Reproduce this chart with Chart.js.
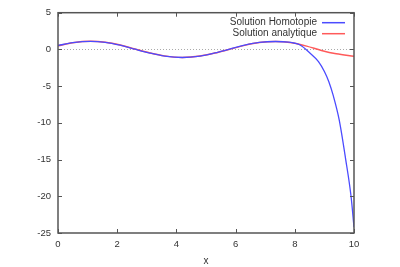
<!DOCTYPE html>
<html>
<head>
<meta charset="utf-8">
<script src="https://cdn.jsdelivr.net/npm/chart.js@4/dist/chart.umd.min.js"></script>
<style>
  html, body { margin: 0; padding: 0; background: #fff; }
  #wrap { width: 400px; height: 267px; }
</style>
</head>
<body>
<div id="wrap"><canvas id="solChart"></canvas></div>
<script>
// values
const xAnalytique = [0, 0.5, 1.1, 1.6, 2.1, 2.6, 3.1, 3.6, 4.2, 4.8, 5.3, 5.8, 6.3, 6.8, 7.35, 7.9, 8.4, 8.9, 9.4, 10];
const yAnalytique = [0.5, 0.91, 1.1, 0.97, 0.59, 0.05, -0.47, -0.88, -1.1, -0.91, -0.5, 0.02, 0.55, 0.94, 1.08, 0.9, 0.45, -0.15, -0.6, -0.92];

const xHomotopie = [0, 0.5, 1.1, 1.6, 2.1, 2.6, 3.1, 3.6, 4.2, 4.8, 5.3, 5.8, 6.3, 6.8, 7.35, 7.8, 8.0, 8.18, 8.5, 8.8, 9.0, 9.15, 9.3, 9.5, 9.72, 9.9, 10];
const yHomotopie = [0.53, 0.92, 1.1, 0.97, 0.58, 0.03, -0.49, -0.9, -1.1, -0.9, -0.48, 0.04, 0.57, 0.95, 1.08, 0.98, 0.84, 0.6, -0.45, -1.65, -3.0, -4.4, -6.3, -9.6, -15.0, -20.0, -24.2];

const xTicks = [0, 2, 4, 6, 8, 10];
const yTicks = [-25, -20, -15, -10, -5, 0, 5];

function toPoints(xs, ys) {
    return xs.map(function (x, i) { return { x: x, y: ys[i] }; });
}

const axisColor = "#555";
const textColor = "#333";

// gnuplot style frame: inward ticks on all four sides, zero line, legend inside top right
const gnuplotLook = {
    id: "gnuplotLook",
    beforeDatasetsDraw(chart) {
        const c = chart.ctx;
        const a = chart.chartArea;
        const y0 = Math.round(chart.scales.y.getPixelForValue(0)) + 0.5;
        c.save();
        c.strokeStyle = "#aaa";
        c.lineWidth = 1;
        c.setLineDash([1, 2]);
        c.beginPath();
        c.moveTo(a.left, y0);
        c.lineTo(a.right, y0);
        c.stroke();
        c.restore();
    },
    afterDatasetsDraw(chart) {
        const c = chart.ctx;
        const a = chart.chartArea;
        const xs = chart.scales.x;
        const ys = chart.scales.y;
        c.save();
        c.strokeStyle = axisColor;
        c.lineWidth = 1.5;
        c.strokeRect(a.left, a.top, a.right - a.left, a.bottom - a.top);
        c.lineWidth = 1;
        c.beginPath();
        xTicks.forEach(function (t) {
            const px = Math.round(xs.getPixelForValue(t)) + 0.5;
            c.moveTo(px, a.bottom); c.lineTo(px, a.bottom - 4);
            c.moveTo(px, a.top); c.lineTo(px, a.top + 4);
        });
        yTicks.forEach(function (t) {
            const py = Math.round(ys.getPixelForValue(t)) + 0.5;
            c.moveTo(a.left, py); c.lineTo(a.left + 4, py);
            c.moveTo(a.right, py); c.lineTo(a.right - 4, py);
        });
        c.stroke();

        // legend: text right aligned, sample line on the right
        c.font = "10px 'Liberation Sans', Arial, sans-serif";
        c.textAlign = "right";
        c.textBaseline = "middle";
        chart.data.datasets.forEach(function (ds, i) {
            const ly = a.top + 10 + i * 11;
            c.fillStyle = textColor;
            c.fillText(ds.label, a.right - 37, ly);
            c.strokeStyle = ds.borderColor;
            c.lineWidth = 1.5;
            c.beginPath();
            c.moveTo(a.right - 32, ly);
            c.lineTo(a.right - 9, ly);
            c.stroke();
        });
        c.restore();
    }
};

const ctx = document.getElementById("solChart").getContext("2d");
const chart = new Chart(ctx, {
    type: "line",
    data: {
        datasets: [{
            label: "Solution Homotopie",
            data: toPoints(xHomotopie, yHomotopie),
            borderColor: "#4b4bff",
            borderWidth: 1.3,
            pointRadius: 0,
            cubicInterpolationMode: "monotone",
            fill: false
        }, {
            label: "Solution analytique",
            data: toPoints(xAnalytique, yAnalytique),
            borderColor: "#ff5a5a",
            borderWidth: 1.5,
            pointRadius: 0,
            cubicInterpolationMode: "monotone",
            fill: false
        }]
    },
    options: {
        responsive: true,
        maintainAspectRatio: false,
        animation: false,
        layout: { padding: { top: 11, right: 46, left: 0, bottom: 0 } },
        plugins: {
            legend: { display: false },
            tooltip: { enabled: false }
        },
        scales: {
            x: {
                type: "linear",
                min: 0,
                max: 10,
                afterBuildTicks: function (s) { s.ticks = xTicks.map(function (v) { return { value: v }; }); },
                afterFit: function (s) { s.height = 34; },
                grid: { display: false, drawTicks: false },
                border: { display: false },
                ticks: {
                    color: textColor,
                    padding: 6,
                    maxRotation: 0,
                    font: { family: "'Liberation Sans', Arial, sans-serif", size: 9.5 }
                },
                title: {
                    display: true,
                    text: "x",
                    color: textColor,
                    padding: { top: 5, bottom: 0 },
                    font: { family: "'Liberation Sans', Arial, sans-serif", size: 10 }
                }
            },
            y: {
                type: "linear",
                min: -25,
                max: 5,
                afterBuildTicks: function (s) { s.ticks = yTicks.map(function (v) { return { value: v }; }); },
                afterFit: function (s) { s.width = 58; },
                grid: { display: false, drawTicks: false },
                border: { display: false },
                ticks: {
                    color: textColor,
                    padding: 7,
                    font: { family: "'Liberation Sans', Arial, sans-serif", size: 9.5 }
                }
            }
        }
    },
    plugins: [gnuplotLook]
});
</script>
</body>
</html>
